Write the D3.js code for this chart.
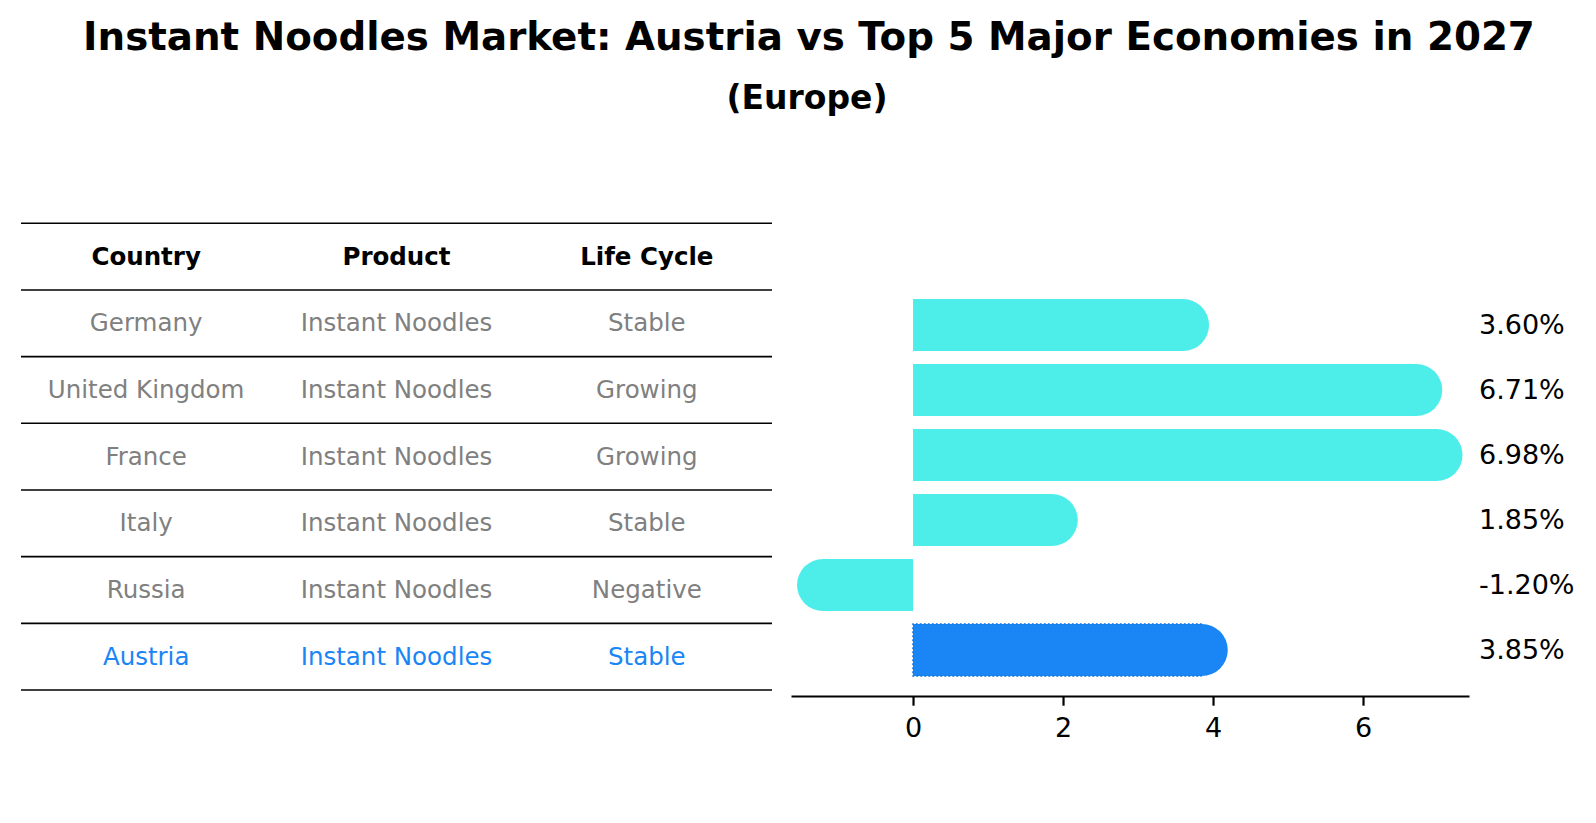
<!DOCTYPE html>
<html lang="en">
<head>
<meta charset="UTF-8">
<title>Instant Noodles Market: Austria vs Top 5 Major Economies in 2027</title>
<script src="https://d3js.org/d3.v7.min.js"></script>
<style>
    body { margin: 0; padding: 0; background: #ffffff; }
    svg { display: block; font-family: 'DejaVu Sans', sans-serif; }
</style>
</head>
<body>
<svg width="1596" height="823"></svg>
<script>
    // data
    const countries = ["Germany", "United Kingdom", "France", "Italy", "Russia", "Austria"];
    const products = ["Instant Noodles", "Instant Noodles", "Instant Noodles", "Instant Noodles", "Instant Noodles", "Instant Noodles"];
    const lifeCycles = ["Stable", "Growing", "Growing", "Stable", "Negative", "Stable"];
    const growth = [3.60, 6.71, 6.98, 1.85, -1.20, 3.85];
    const headers = ["Country", "Product", "Life Cycle"];
    const xTicks = [0, 2, 4, 6];
    const focus = "Austria";

    const cyan = "#4deeea";
    const blue = "#1a85f5";
    const grey = "#808080";

    const svg = d3.select("svg");

    // titles
    svg.append("text")
       .attr("x", 809).attr("y", 50)
       .attr("text-anchor", "middle")
       .attr("font-size", 38.8).attr("font-weight", "bold")
       .text("Instant Noodles Market: Austria vs Top 5 Major Economies in 2027");

    svg.append("text")
       .attr("x", 807).attr("y", 109)
       .attr("text-anchor", "middle")
       .attr("font-size", 33).attr("font-weight", "bold")
       .text("(Europe)");

    // ---- table ----
    const tableLeft = 21, tableRight = 772;
    const colScale = d3.scaleBand().domain(d3.range(3)).range([tableLeft, tableRight]);
    const rowScale = d3.scaleLinear().domain([0, countries.length + 1]).range([223.3, 690]);

    const table = svg.append("g");

    table.selectAll(".hline")
         .data(d3.range(countries.length + 2))
         .enter().append("line")
         .attr("x1", tableLeft).attr("x2", tableRight)
         .attr("y1", d => rowScale(d)).attr("y2", d => rowScale(d))
         .attr("stroke", "#000").attr("stroke-width", 1.6);

    table.selectAll(".head")
         .data(headers)
         .enter().append("text")
         .attr("x", (d, i) => colScale(i) + colScale.bandwidth() / 2)
         .attr("y", rowScale(0.5))
         .attr("dy", "0.33em")
         .attr("text-anchor", "middle")
         .attr("font-size", 24.5).attr("font-weight", "bold")
         .text(d => d);

    const rows = countries.map((c, i) => [c, products[i], lifeCycles[i]]);
    rows.forEach((row, r) => {
        table.selectAll(".cell-" + r)
             .data(row)
             .enter().append("text")
             .attr("x", (d, i) => colScale(i) + colScale.bandwidth() / 2)
             .attr("y", rowScale(r + 1.5))
             .attr("dy", "0.33em")
             .attr("text-anchor", "middle")
             .attr("font-size", 24.5)
             .attr("fill", countries[r] === focus ? blue : grey)
             .text(d => d);
    });

    // ---- bars ----
    const x = d3.scaleLinear().domain([-1.627, 7.413]).range([791, 1469]);
    const y = d3.scaleBand().domain(countries).range([292.5, 682.5])
                .paddingInner(0.2).paddingOuter(0.1);
    const r = y.bandwidth() / 2;

    function capPath(d, i) {
        const top = y(countries[i]), bot = top + y.bandwidth();
        const x0 = x(0), xv = x(d);
        const sweep = d >= 0 ? 1 : 0;
        return `M${x0},${top}H${xv}A${r},${r} 0 0 ${sweep} ${xv},${bot}H${x0}Z`;
    }

    const bars = svg.append("g");
    bars.selectAll("path")
        .data(growth)
        .enter().append("path")
        .attr("d", capPath)
        .attr("fill", (d, i) => countries[i] === focus ? blue : cyan);

    // dotted edge on the highlighted bar (top, base side, bottom)
    growth.forEach((d, i) => {
        if (countries[i] !== focus) return;
        const top = y(countries[i]), bot = top + y.bandwidth();
        bars.append("path")
            .attr("d", `M${x(d)},${top}H${x(0)}V${bot}H${x(d)}`)
            .attr("fill", "none")
            .attr("stroke", "#1577dc")
            .attr("stroke-width", 1.6)
            .attr("stroke-dasharray", "2,2");
    });

    // value labels
    svg.append("g").selectAll("text")
       .data(growth)
       .enter().append("text")
       .attr("x", 1479)
       .attr("y", (d, i) => y(countries[i]) + y.bandwidth() / 2)
       .attr("dy", "0.35em")
       .attr("font-size", 27)
       .text(d => d.toFixed(2) + "%");

    // x axis
    const axis = svg.append("g")
       .attr("transform", "translate(0,696)")
       .call(d3.axisBottom(x).tickValues(xTicks).tickSize(9.7).tickSizeOuter(0).tickPadding(12));
    axis.select(".domain").attr("stroke-width", 2.2);
    axis.selectAll(".tick line").attr("stroke-width", 2.2);
    axis.selectAll(".tick text").attr("font-size", 27).attr("font-family", "'DejaVu Sans', sans-serif");
</script>
</body>
</html>
